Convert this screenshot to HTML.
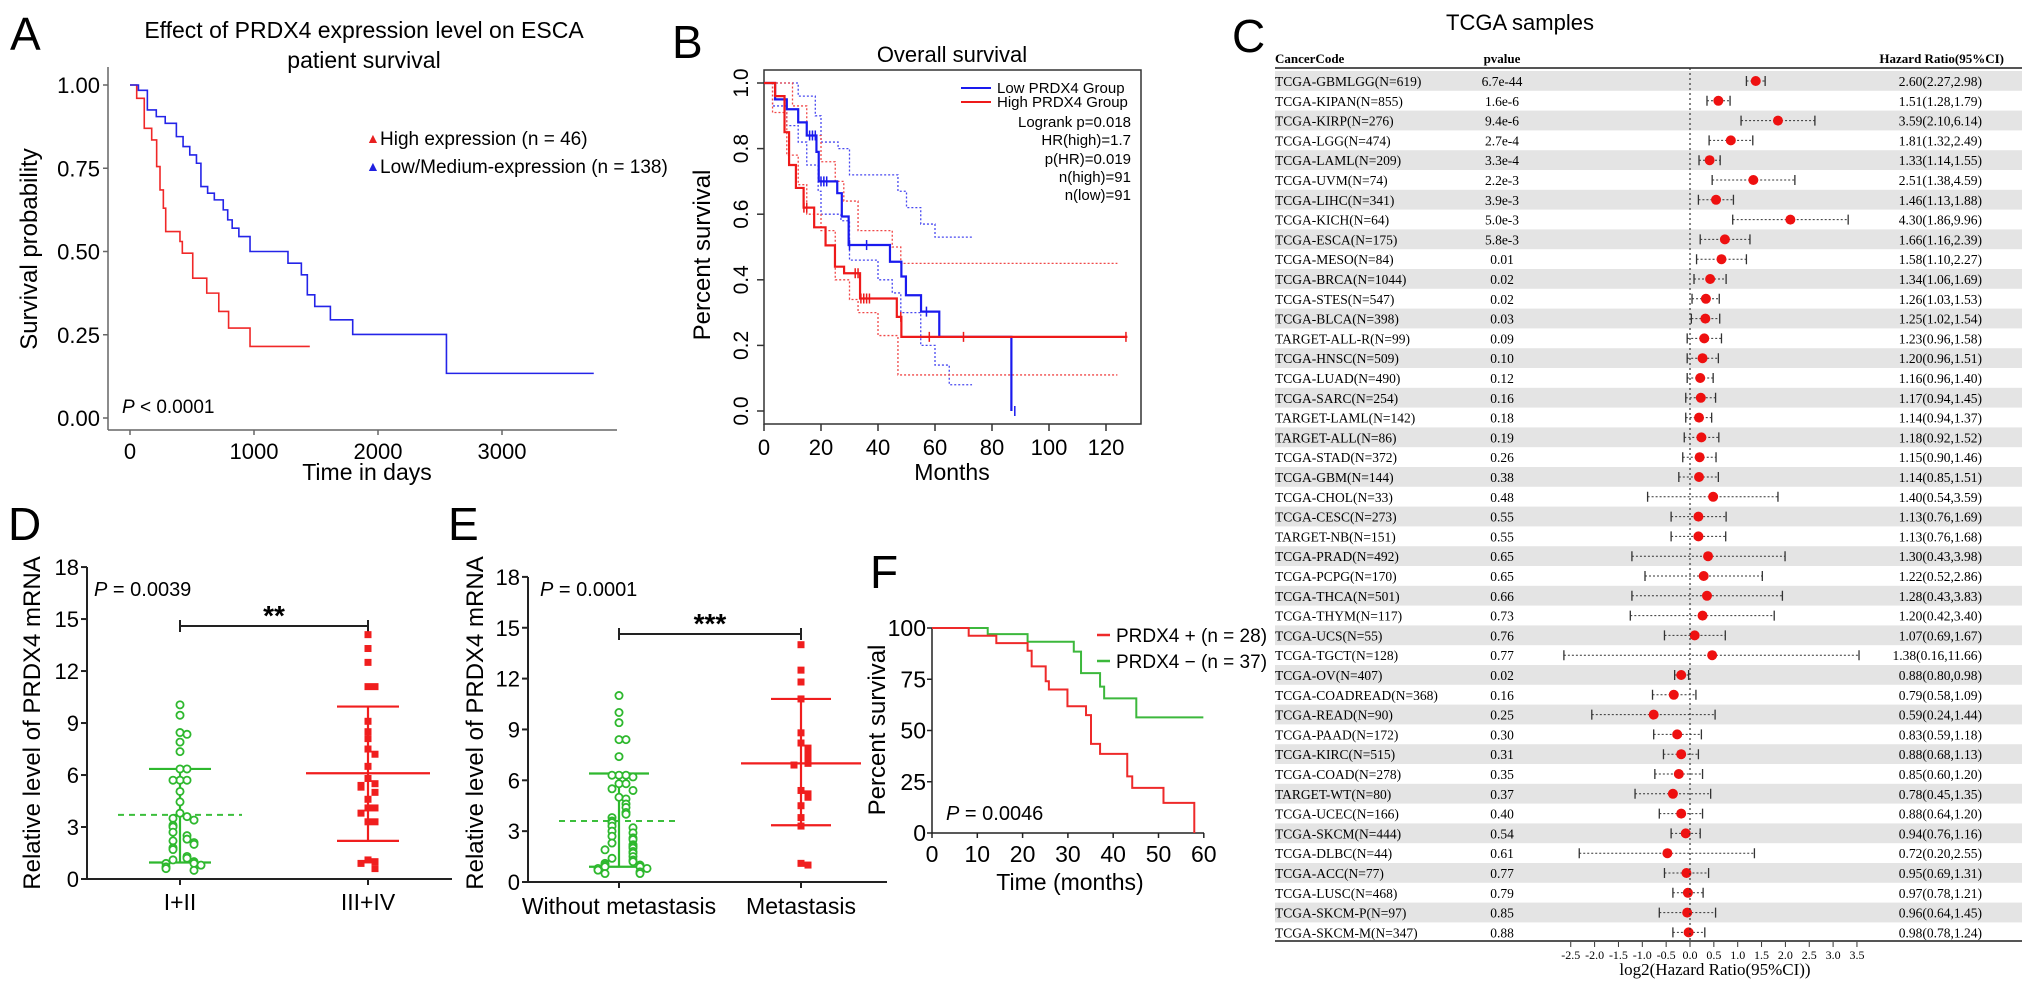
<!DOCTYPE html>
<html><head><meta charset="utf-8"><style>
html,body{margin:0;padding:0;background:#fff;}
svg{display:block;font-family:"Liberation Sans",sans-serif;}
.serif{font-family:"Liberation Serif",serif;}
</style></head><body>
<svg id="fig" width="2032" height="990" viewBox="0 0 2032 990" xmlns="http://www.w3.org/2000/svg">
<!-- Panel letters -->
<text x="10" y="50" font-size="46">A</text>
<text x="672" y="58" font-size="46">B</text>
<text x="1232" y="52" font-size="46">C</text>
<text x="8" y="540" font-size="46">D</text>
<text x="448" y="540" font-size="46">E</text>
<text x="870" y="588" font-size="46">F</text>

<!-- Panel A static -->
<g>
<text x="364" y="38" font-size="23" text-anchor="middle">Effect of PRDX4 expression level on ESCA</text>
<text x="364" y="68" font-size="23" text-anchor="middle">patient survival</text>
<line x1="108" y1="67" x2="108" y2="430" stroke="#666" stroke-width="1.5"/>
<line x1="108" y1="430" x2="617" y2="430" stroke="#666" stroke-width="1.5"/>
<text transform="translate(37,249) rotate(-90)" font-size="24" text-anchor="middle">Survival probability</text>
<text x="367" y="480" font-size="23" text-anchor="middle">Time in days</text>
<text x="122" y="413" font-size="19"><tspan font-style="italic">P</tspan> &lt; 0.0001</text>
<text x="366" y="143" font-size="14" fill="#e82020">▲</text>
<text x="380" y="145" font-size="19">High expression (n = 46)</text>
<text x="366" y="171" font-size="14" fill="#2020e0">▲</text>
<text x="380" y="173" font-size="19">Low/Medium-expression (n = 138)</text>
<g id="aTicks"></g><g id="aCurves"></g>
</g>

<!-- Panel B static -->
<g>
<text x="952" y="62" font-size="22" text-anchor="middle">Overall survival</text>
<rect x="764" y="70" width="377" height="354" fill="none" stroke="#333" stroke-width="1.5"/>
<text transform="translate(710,255) rotate(-90)" font-size="24" text-anchor="middle">Percent survival</text>
<text x="952" y="480" font-size="23" text-anchor="middle">Months</text>
<line x1="961" y1="88" x2="991" y2="88" stroke="#1a1aee" stroke-width="2"/>
<text x="997" y="93" font-size="15">Low PRDX4 Group</text>
<line x1="961" y1="102" x2="991" y2="102" stroke="#ee1a1a" stroke-width="2"/>
<text x="997" y="107" font-size="15">High PRDX4 Group</text>
<g font-size="15" text-anchor="end">
<text x="1131" y="127">Logrank p=0.018</text>
<text x="1131" y="145">HR(high)=1.7</text>
<text x="1131" y="164">p(HR)=0.019</text>
<text x="1131" y="182">n(high)=91</text>
<text x="1131" y="200">n(low)=91</text>
</g>
<g id="bTicks"></g><g id="bCurves"></g>
</g>

<!-- Panel C static -->
<g class="serif">
<text x="1520" y="30" font-size="22" text-anchor="middle" font-family="Liberation Sans,sans-serif">TCGA samples</text>
<text x="1275" y="63" font-size="13" font-weight="bold">CancerCode</text>
<text x="1502" y="63" font-size="13" font-weight="bold" text-anchor="middle">pvalue</text>
<text x="2004" y="63" font-size="13" font-weight="bold" text-anchor="end">Hazard Ratio(95%CI)</text>
<g id="cRows"></g>
<line x1="1275" y1="68" x2="2022" y2="68" stroke="#555" stroke-width="2"/>
<line x1="1275" y1="941" x2="2022" y2="941" stroke="#555" stroke-width="2"/>
<line x1="1690" y1="68" x2="1690" y2="941" stroke="#333" stroke-width="1.2" stroke-dasharray="2,3"/>
<g id="cAxis"></g>
<text x="1715" y="975" font-size="17" text-anchor="middle">log2(Hazard Ratio(95%CI))</text>
</g>

<!-- Panel D static -->
<g>
<line x1="87" y1="567" x2="87" y2="879" stroke="#222" stroke-width="2"/>
<line x1="87" y1="879" x2="452" y2="879" stroke="#222" stroke-width="2"/>
<text transform="translate(40,723) rotate(-90)" font-size="24" text-anchor="middle">Relative level of PRDX4 mRNA</text>
<text x="94" y="596" font-size="20"><tspan font-style="italic">P</tspan> = 0.0039</text>
<path d="M180,620 V632 M180,626 H368 M368,620 V632" stroke="#222" stroke-width="2" fill="none"/>
<text x="274" y="625" font-size="28" font-weight="bold" text-anchor="middle">**</text>
<g id="dPlot"></g>
</g>

<!-- Panel E static -->
<g>
<line x1="528" y1="577" x2="528" y2="882" stroke="#222" stroke-width="2"/>
<line x1="528" y1="882" x2="887" y2="882" stroke="#222" stroke-width="2"/>
<text transform="translate(483,723) rotate(-90)" font-size="24" text-anchor="middle">Relative level of PRDX4 mRNA</text>
<text x="540" y="596" font-size="20"><tspan font-style="italic">P</tspan> = 0.0001</text>
<path d="M619,628 V640 M619,634 H801 M801,628 V640" stroke="#222" stroke-width="2" fill="none"/>
<text x="710" y="633" font-size="28" font-weight="bold" text-anchor="middle">***</text>
<g id="ePlot"></g>
</g>

<!-- Panel F static -->
<g>
<line x1="932" y1="628" x2="932" y2="833" stroke="#222" stroke-width="1.5"/>
<line x1="932" y1="833" x2="1204" y2="833" stroke="#222" stroke-width="1.5"/>
<text transform="translate(885,730) rotate(-90)" font-size="24" text-anchor="middle">Percent survival</text>
<text x="1070" y="890" font-size="23" text-anchor="middle">Time (months)</text>
<text x="946" y="820" font-size="20"><tspan font-style="italic">P</tspan> = 0.0046</text>
<line x1="1097" y1="635" x2="1110" y2="635" stroke="#ee2a2a" stroke-width="2.5"/>
<text x="1116" y="642" font-size="19">PRDX4 + (n = 28)</text>
<line x1="1097" y1="661" x2="1110" y2="661" stroke="#3cb83c" stroke-width="2.5"/>
<text x="1116" y="668" font-size="19">PRDX4 − (n = 37)</text>
<g id="fTicks"></g><g id="fCurves"></g>
</g>
</svg>
<script>
// ---------- Panel A data ----------
const aTickDays = [0, 1000, 2000, 3000];
const aTickProbs = [0, 0.25, 0.5, 0.75, 1];
const aTickProbLabels = ["0.00", "0.25", "0.50", "0.75", "1.00"];
const aHighDays = [0, 54, 115, 175, 215, 242, 269, 288, 403, 422, 506, 619, 716, 795, 968];
const aHighSurv = [1, 0.96, 0.87, 0.835, 0.755, 0.685, 0.63, 0.56, 0.53, 0.495, 0.42, 0.375, 0.32, 0.27, 0.215];
const aHighEnd = 1450;
const aLowDays = [0, 68, 140, 212, 284, 374, 428, 482, 536, 572, 626, 680, 752, 788, 824, 878, 968, 1274, 1382, 1430, 1490, 1616, 1796, 2552];
const aLowSurv = [1, 0.984, 0.925, 0.905, 0.885, 0.845, 0.815, 0.79, 0.765, 0.695, 0.675, 0.655, 0.625, 0.595, 0.57, 0.545, 0.5, 0.465, 0.43, 0.37, 0.335, 0.295, 0.251, 0.134];
const aLowEnd = 3740;
// ---------- Panel B data ----------
const bTickMonths = [0, 20, 40, 60, 80, 100, 120];
const bTickProbs = [0, 0.2, 0.4, 0.6, 0.8, 1.0];
const bTickProbLabels = ["0.0", "0.2", "0.4", "0.6", "0.8", "1.0"];
const bLowMonths = [0, 3.9, 8, 12, 15, 18.4, 19.2, 25.7, 27.3, 29.7, 44.2, 48.2, 49.8, 55.1, 61.5, 86.8];
const bLowSurv = [1, 0.95, 0.92, 0.88, 0.84, 0.79, 0.70, 0.664, 0.593, 0.506, 0.455, 0.41, 0.353, 0.303, 0.226, 0];
const bLowEnd = 86.8;
const bHighMonths = [0, 3.9, 7.2, 8.8, 11.2, 13.9, 17.6, 21.6, 24.9, 28.1, 33.7, 46.6, 48.2];
const bHighSurv = [1, 0.96, 0.85, 0.75, 0.68, 0.62, 0.56, 0.505, 0.44, 0.42, 0.343, 0.287, 0.226];
const bHighEnd = 127.5;
const bLowUpperMonths = [0, 5, 12, 18, 20, 26, 30, 43, 47, 50, 55, 60];
const bLowUpperSurv = [1, 1, 0.96, 0.9, 0.82, 0.8, 0.72, 0.72, 0.67, 0.62, 0.57, 0.53];
const bLowUpperEnd = 73;
const bLowLowerMonths = [0, 3, 8, 12, 15, 19, 20, 27, 30, 40, 45, 48, 55, 60, 65];
const bLowLowerSurv = [1, 0.93, 0.87, 0.82, 0.75, 0.67, 0.60, 0.58, 0.46, 0.40, 0.36, 0.30, 0.20, 0.14, 0.08];
const bLowLowerEnd = 73;
const bHighUpperMonths = [0, 5, 10, 15, 20, 25, 28, 33, 45, 48];
const bHighUpperSurv = [1, 1, 0.93, 0.84, 0.76, 0.70, 0.64, 0.55, 0.5, 0.45];
const bHighUpperEnd = 124;
const bHighLowerMonths = [0, 3, 8, 12, 15, 20, 25, 30, 33, 40, 47];
const bHighLowerSurv = [1, 0.91, 0.78, 0.69, 0.6, 0.55, 0.4, 0.34, 0.30, 0.23, 0.11];
const bHighLowerEnd = 124;
const bLowCensor = [16, 17, 18, 20, 21, 22, 30, 36, 57, 88];
const bHighCensor = [14, 15, 32, 33, 34, 35, 36, 37, 48, 58, 70, 127];
// ---------- Panel C data ----------
const cNames = ["TCGA-GBMLGG(N=619)","TCGA-KIPAN(N=855)","TCGA-KIRP(N=276)","TCGA-LGG(N=474)","TCGA-LAML(N=209)","TCGA-UVM(N=74)","TCGA-LIHC(N=341)","TCGA-KICH(N=64)","TCGA-ESCA(N=175)","TCGA-MESO(N=84)","TCGA-BRCA(N=1044)","TCGA-STES(N=547)","TCGA-BLCA(N=398)","TARGET-ALL-R(N=99)","TCGA-HNSC(N=509)","TCGA-LUAD(N=490)","TCGA-SARC(N=254)","TARGET-LAML(N=142)","TARGET-ALL(N=86)","TCGA-STAD(N=372)","TCGA-GBM(N=144)","TCGA-CHOL(N=33)","TCGA-CESC(N=273)","TARGET-NB(N=151)","TCGA-PRAD(N=492)","TCGA-PCPG(N=170)","TCGA-THCA(N=501)","TCGA-THYM(N=117)","TCGA-UCS(N=55)","TCGA-TGCT(N=128)","TCGA-OV(N=407)","TCGA-COADREAD(N=368)","TCGA-READ(N=90)","TCGA-PAAD(N=172)","TCGA-KIRC(N=515)","TCGA-COAD(N=278)","TARGET-WT(N=80)","TCGA-UCEC(N=166)","TCGA-SKCM(N=444)","TCGA-DLBC(N=44)","TCGA-ACC(N=77)","TCGA-LUSC(N=468)","TCGA-SKCM-P(N=97)","TCGA-SKCM-M(N=347)"];
const cPvalues = ["6.7e-44","1.6e-6","9.4e-6","2.7e-4","3.3e-4","2.2e-3","3.9e-3","5.0e-3","5.8e-3","0.01","0.02","0.02","0.03","0.09","0.10","0.12","0.16","0.18","0.19","0.26","0.38","0.48","0.55","0.55","0.65","0.65","0.66","0.73","0.76","0.77","0.02","0.16","0.25","0.30","0.31","0.35","0.37","0.40","0.54","0.61","0.77","0.79","0.85","0.88"];
const cHR = [2.60,1.51,3.59,1.81,1.33,2.51,1.46,4.30,1.66,1.58,1.34,1.26,1.25,1.23,1.20,1.16,1.17,1.14,1.18,1.15,1.14,1.40,1.13,1.13,1.30,1.22,1.28,1.20,1.07,1.38,0.88,0.79,0.59,0.83,0.88,0.85,0.78,0.88,0.94,0.72,0.95,0.97,0.96,0.98];
const cLow = [2.27,1.28,2.10,1.32,1.14,1.38,1.13,1.86,1.16,1.10,1.06,1.03,1.02,0.96,0.96,0.96,0.94,0.94,0.92,0.90,0.85,0.54,0.76,0.76,0.43,0.52,0.43,0.42,0.69,0.16,0.80,0.58,0.24,0.59,0.68,0.60,0.45,0.64,0.76,0.20,0.69,0.78,0.64,0.78];
const cHigh = [2.98,1.79,6.14,2.49,1.55,4.59,1.88,9.96,2.39,2.27,1.69,1.53,1.54,1.58,1.51,1.40,1.45,1.37,1.52,1.46,1.51,3.59,1.69,1.68,3.98,2.86,3.83,3.40,1.67,11.66,0.98,1.09,1.44,1.18,1.13,1.20,1.35,1.20,1.16,2.55,1.31,1.21,1.45,1.24];
const cTicks = [-2.5,-2.0,-1.5,-1.0,-0.5,0.0,0.5,1.0,1.5,2.0,2.5,3.0,3.5];
// ---------- Panel D data ----------
const dTicks = [0, 3, 6, 9, 12, 15, 18];
const dGroups = ["I+II", "III+IV"];
const dGreen = [10.05,9.45,8.45,8.35,7.9,7.35,6.35,6.35,5.7,5.7,5.7,5.05,4.45,3.8,3.6,3.5,3.4,3.1,3.0,2.7,2.5,2.3,2.2,2.1,2.0,1.8,1.7,1.3,1.2,1.1,1.0,0.9,0.9,0.8,0.7,0.6,0.5];
const dRed = [14.1,13.3,12.5,11.1,11.1,9.1,8.5,8.1,7.5,7.2,6.5,5.8,5.5,5.4,5.3,5.0,4.6,4.1,4.1,3.8,3.3,3.3,1.1,1.0,0.9,0.6];
const dGreenStats = [3.7, 6.35, 0.95]; // mean, upper SD, lower SD
const dRedStats = [6.1, 9.95, 2.2];
// ---------- Panel E data ----------
const eTicks = [0, 3, 6, 9, 12, 15, 18];
const eGroups = ["Without metastasis", "Metastasis"];
const eGreen = [11.0,10.0,9.4,8.4,8.4,7.4,6.3,6.3,6.3,6.2,5.8,5.8,5.5,5.4,5.0,4.9,4.6,4.4,4.1,4.0,3.8,3.6,3.5,3.3,3.2,3.0,2.9,2.7,2.6,2.5,2.3,2.2,2.1,2.0,1.9,1.8,1.7,1.5,1.4,1.3,1.2,1.1,1.0,1.0,0.9,0.9,0.8,0.8,0.7,0.6,0.5,0.5];
const eRed = [14.0,12.5,11.8,10.8,8.8,8.2,7.9,7.6,7.3,7.0,6.9,5.4,5.2,5.0,4.5,3.8,3.3,1.1,1.0];
const eGreenStats = [3.6, 6.4, 0.9];
const eRedStats = [7.0, 10.8, 3.35];
// ---------- Panel F data ----------
const fTickMonths = [0, 10, 20, 30, 40, 50, 60];
const fTickPct = [0, 25, 50, 75, 100];
const fNegMonths = [0, 12.3, 21.1, 31.3, 32.9, 37.1, 38.0, 45.1];
const fNegSurv = [100, 97, 93.3, 88.5, 78, 71.4, 65.7, 56.4];
const fNegEnd = 59.9;
const fPosMonths = [0, 8.1, 14.2, 21.1, 22.0, 25.1, 25.8, 29.9, 34.0, 35.1, 37.1, 43.1, 44.2, 51.1, 57.9];
const fPosSurv = [100, 96.2, 92.6, 88.9, 81.3, 74, 70, 61.8, 57.5, 43.5, 38.6, 27.6, 22, 14.7, 0];
const fPosEnd = 57.9;

// ---------- scales ----------
const ax = d => 130 + d * 0.124, ay = p => 418 - 333 * p;
const bx = m => 764 + m * 2.85, by = p => 411 - 328 * p;
const cx = l => 1690 + l * 47.7, cy = i => 81 + i * 19.8;
const dy = v => 879 - v * 17.33, ey = v => 882 - v * 16.95;
const fx = m => 932 + m * 4.53, fy = p => 833 - p * 2.05;
const NS = "http://www.w3.org/2000/svg";
function mk(parent, tag, attrs, text) {
  const el = document.createElementNS(NS, tag);
  for (const k in attrs) el.setAttribute(k, attrs[k]);
  if (text !== undefined) el.textContent = text;
  document.getElementById(parent).appendChild(el);
  return el;
}
function stepPath(xs, ys, end, sx, sy) {
  let d = "M" + sx(xs[0]) + "," + sy(ys[0]);
  for (let i = 1; i < xs.length; i++) d += " H" + sx(xs[i]) + " V" + sy(ys[i]);
  d += " H" + sx(end);
  return d;
}
function stepAt(xs, ys, t) { let v = ys[0]; for (let i = 0; i < xs.length; i++) if (xs[i] <= t) v = ys[i]; return v; }

// ---------- Panel A ----------
aTickDays.forEach(d => {
  const t = mk("aTicks", "line", {x1: ax(d), y1: 430, x2: ax(d), y2: 435, stroke: "#666", "stroke-width": 1.5});
  
  
  const l = mk("aTicks", "text", {x: ax(d), y: 459, "font-size": 22, "text-anchor": "middle"}, String(d));
  
  
});
aTickProbs.forEach((p, i) => {
  const t = mk("aTicks", "line", {x1: 103, y1: ay(p), x2: 108, y2: ay(p), stroke: "#666", "stroke-width": 1.5});
  
  
  const l = mk("aTicks", "text", {x: 100, y: ay(p) + 8, "font-size": 22, "text-anchor": "end"}, aTickProbLabels[i]);
  
  
});
const aHigh = mk("aCurves", "path", {d: stepPath(aHighDays, aHighSurv, aHighEnd, ax, ay), fill: "none", stroke: "#f02828", "stroke-width": 1.6});


const aLow = mk("aCurves", "path", {d: stepPath(aLowDays, aLowSurv, aLowEnd, ax, ay), fill: "none", stroke: "#2424e8", "stroke-width": 1.6});



// ---------- Panel B ----------
bTickMonths.forEach(m => {
  const t = mk("bTicks", "line", {x1: bx(m), y1: 424, x2: bx(m), y2: 431, stroke: "#333", "stroke-width": 1.5});
  
  
  const l = mk("bTicks", "text", {x: bx(m), y: 455, "font-size": 22, "text-anchor": "middle"}, String(m));
  
  
});
bTickProbs.forEach((p, i) => {
  const t = mk("bTicks", "line", {x1: 757, y1: by(p), x2: 764, y2: by(p), stroke: "#333", "stroke-width": 1.5});
  
  
  const l = mk("bTicks", "text", {transform: "translate(748," + by(p) + ") rotate(-90)", "font-size": 21, "text-anchor": "middle"}, bTickProbLabels[i]);
  
  
});
const bLU = mk("bCurves", "path", {d: stepPath(bLowUpperMonths, bLowUpperSurv, bLowUpperEnd, bx, by), fill: "none", stroke: "#4848f0", "stroke-width": 1.3, "stroke-dasharray": "2,2"});


const bLL = mk("bCurves", "path", {d: stepPath(bLowLowerMonths, bLowLowerSurv, bLowLowerEnd, bx, by), fill: "none", stroke: "#4848f0", "stroke-width": 1.3, "stroke-dasharray": "2,2"});


const bHU = mk("bCurves", "path", {d: stepPath(bHighUpperMonths, bHighUpperSurv, bHighUpperEnd, bx, by), fill: "none", stroke: "#f04848", "stroke-width": 1.3, "stroke-dasharray": "2,2"});


const bHL = mk("bCurves", "path", {d: stepPath(bHighLowerMonths, bHighLowerSurv, bHighLowerEnd, bx, by), fill: "none", stroke: "#f04848", "stroke-width": 1.3, "stroke-dasharray": "2,2"});


const bLowC = mk("bCurves", "path", {d: stepPath(bLowMonths, bLowSurv, bLowEnd, bx, by), fill: "none", stroke: "#1a1aee", "stroke-width": 2.2});


const bHighC = mk("bCurves", "path", {d: stepPath(bHighMonths, bHighSurv, bHighEnd, bx, by), fill: "none", stroke: "#ee1a1a", "stroke-width": 2.2});


bLowCensor.forEach(m => {
  const y = by(stepAt(bLowMonths, bLowSurv, m));
  const c = mk("bCurves", "line", {x1: bx(m), y1: y - 5, x2: bx(m), y2: y + 5, stroke: "#1a1aee", "stroke-width": 1.5});
  
  
});
bHighCensor.forEach(m => {
  const y = by(stepAt(bHighMonths, bHighSurv, m));
  const c = mk("bCurves", "line", {x1: bx(m), y1: y - 5, x2: bx(m), y2: y + 5, stroke: "#ee1a1a", "stroke-width": 1.5});
  
  
});

// ---------- Panel C ----------
cNames.forEach((n, i) => {
  const y = cy(i);
  if (i % 2 === 0) {
    const s = mk("cRows", "rect", {x: 1275, y: y - 10, width: 747, height: 19.8, fill: "#e4e4e4"});
    
    
  }
  const nm = mk("cRows", "text", {x: 1275, y: y + 5, "font-size": 13.5}, n);
  
  
  const pv = mk("cRows", "text", {x: 1502, y: y + 5, "font-size": 13.5, "text-anchor": "middle"}, cPvalues[i]);
  
  
  const hr = mk("cRows", "text", {x: 1982, y: y + 5, "font-size": 13.5, "text-anchor": "end"},
    cHR[i].toFixed(2) + "(" + cLow[i].toFixed(2) + "," + cHigh[i].toFixed(2) + ")");
  
  
  const x1 = cx(Math.log2(cLow[i])), x2 = cx(Math.log2(cHigh[i]));
  const ci = mk("cRows", "path", {d: "M" + x1 + "," + y + " H" + x2, stroke: "#333", "stroke-width": 1, "stroke-dasharray": "2,2", fill: "none"});
  
  
  const caps = mk("cRows", "path", {d: "M" + x1 + "," + (y - 5) + " V" + (y + 5) + " M" + x2 + "," + (y - 5) + " V" + (y + 5), stroke: "#333", "stroke-width": 1.3, fill: "none"});
  
  
  const dot = mk("cRows", "circle", {cx: cx(Math.log2(cHR[i])), cy: y, r: 5, fill: "#ee1010"});
  
  
});
cTicks.forEach(t => {
  const tk = mk("cAxis", "line", {x1: cx(t), y1: 942, x2: cx(t), y2: 947, stroke: "#333", "stroke-width": 1});
  
  
  const lb = mk("cAxis", "text", {x: cx(t), y: 959, "font-size": 12, "text-anchor": "middle"}, t.toFixed(1));
  
  
});

// ---------- Panels D & E (scatter with mean ± SD) ----------
function jitter(vals, i) {
  let k = 0;
  for (let j = 0; j < i; j++) if (Math.abs(vals[j] - vals[i]) < 0.4) k++;
  return (k % 2 ? 1 : -1) * Math.ceil(k / 2) * 7;
}
function dotPanel(gid, prefix, sy, ticks, axisX, axisY, groups, gx, green, red, gStats, rStats, gW, rW, labelY) {
  ticks.forEach(t => {
    const tk = mk(gid, "line", {x1: axisX - 6, y1: sy(t), x2: axisX, y2: sy(t), stroke: "#222", "stroke-width": 2});
    
    
    const lb = mk(gid, "text", {x: axisX - 8, y: sy(t) + 8, "font-size": 22, "text-anchor": "end"}, String(t));
    
    
  });
  groups.forEach((g, i) => {
    const tk = mk(gid, "line", {x1: gx[i], y1: axisY, x2: gx[i], y2: axisY + 6, stroke: "#222", "stroke-width": 2});
    
    
    const lb = mk(gid, "text", {x: gx[i], y: labelY, "font-size": 23, "text-anchor": "middle"}, g);
    
    
  });
  // green group
  const gm = mk(gid, "line", {x1: gx[0] - gW[1], y1: sy(gStats[0]), x2: gx[0] + gW[1], y2: sy(gStats[0]), stroke: "#3cbf3c", "stroke-width": 2, "stroke-dasharray": "6,5"});
  
  
  const gsd = mk(gid, "path", {d: "M" + (gx[0] - gW[0]) + "," + sy(gStats[1]) + " H" + (gx[0] + gW[0]) + " M" + (gx[0] - gW[0]) + "," + sy(gStats[2]) + " H" + (gx[0] + gW[0]) + " M" + gx[0] + "," + sy(gStats[1]) + " V" + sy(gStats[2]), stroke: "#2eb82e", "stroke-width": 2.2, fill: "none"});
  
  
  green.forEach((v, i) => {
    const c = mk(gid, "circle", {cx: gx[0] + jitter(green, i), cy: sy(v), r: 3.6, fill: "#fff", stroke: "#2eb82e", "stroke-width": 1.8});
    
    
  });
  const rm = mk(gid, "line", {x1: gx[1] - rW[1], y1: sy(rStats[0]), x2: gx[1] + rW[1], y2: sy(rStats[0]), stroke: "#f01e1e", "stroke-width": 2.2});
  
  
  const rsd = mk(gid, "path", {d: "M" + (gx[1] - rW[0]) + "," + sy(rStats[1]) + " H" + (gx[1] + rW[0]) + " M" + (gx[1] - rW[0]) + "," + sy(rStats[2]) + " H" + (gx[1] + rW[0]) + " M" + gx[1] + "," + sy(rStats[1]) + " V" + sy(rStats[2]), stroke: "#f01e1e", "stroke-width": 2.2, fill: "none"});
  
  
  red.forEach((v, i) => {
    const s = mk(gid, "rect", {x: gx[1] + jitter(red, i) - 3.5, y: sy(v) - 3.5, width: 7, height: 7, fill: "#f01e1e"});
    
    
  });
}
dotPanel("dPlot", "d", dy, dTicks, 87, 879, dGroups, [180, 368], dGreen, dRed, dGreenStats, dRedStats, [31, 62], [31, 62], 910);
dotPanel("ePlot", "e", ey, eTicks, 528, 882, eGroups, [619, 801], eGreen, eRed, eGreenStats, eRedStats, [30, 60], [30, 60], 914);

// ---------- Panel F ----------
fTickMonths.forEach(m => {
  const t = mk("fTicks", "line", {x1: fx(m), y1: 833, x2: fx(m), y2: 838, stroke: "#222", "stroke-width": 1.5});
  
  
  const l = mk("fTicks", "text", {x: fx(m), y: 862, "font-size": 23, "text-anchor": "middle"}, String(m));
  
  
});
fTickPct.forEach(p => {
  const t = mk("fTicks", "line", {x1: 927, y1: fy(p), x2: 932, y2: fy(p), stroke: "#222", "stroke-width": 1.5});
  
  
  const l = mk("fTicks", "text", {x: 926, y: fy(p) + 8, "font-size": 23, "text-anchor": "end"}, String(p));
  
  
});
const fNeg = mk("fCurves", "path", {d: stepPath(fNegMonths, fNegSurv, fNegEnd, fx, fy), fill: "none", stroke: "#3cb83c", "stroke-width": 2});


const fPos = mk("fCurves", "path", {d: stepPath(fPosMonths, fPosSurv, fPosEnd, fx, fy), fill: "none", stroke: "#ee2a2a", "stroke-width": 2});


</script>
</body></html>
